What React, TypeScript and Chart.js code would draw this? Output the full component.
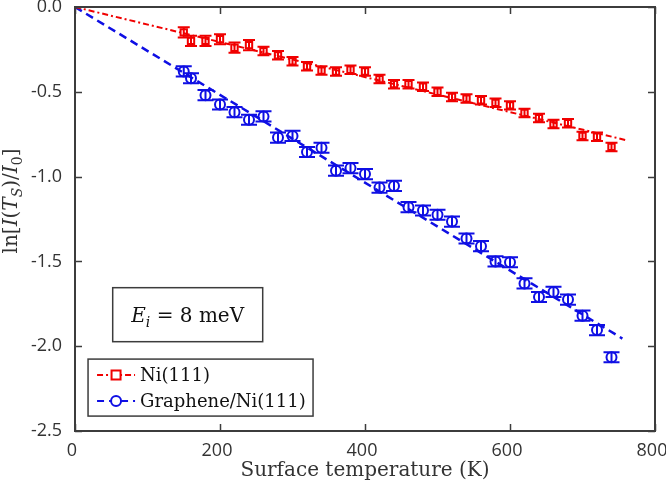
import React, { useEffect, useRef } from 'react';
import { Chart, registerables } from 'chart.js';
Chart.register(...registerables);

const temps = [150, 160, 180, 200, 220, 240, 260, 280, 300, 320, 340, 360, 380, 400, 420, 440, 460, 480, 500, 520, 540, 560, 580, 600, 620, 640, 660, 680, 700, 720, 740];
const niValues = [-0.15, -0.20, -0.20, -0.19, -0.24, -0.225, -0.26, -0.285, -0.32, -0.35, -0.375, -0.38, -0.37, -0.38, -0.425, -0.455, -0.455, -0.47, -0.50, -0.53, -0.54, -0.55, -0.565, -0.58, -0.625, -0.655, -0.69, -0.685, -0.76, -0.765, -0.825];
const niErrors = [0.03, 0.03, 0.03, 0.03, 0.03, 0.03, 0.025, 0.025, 0.025, 0.025, 0.025, 0.025, 0.025, 0.025, 0.025, 0.025, 0.025, 0.025, 0.025, 0.025, 0.025, 0.025, 0.025, 0.025, 0.025, 0.025, 0.025, 0.025, 0.025, 0.025, 0.025];
const grValues = [-0.38, -0.42, -0.52, -0.575, -0.62, -0.665, -0.645, -0.77, -0.76, -0.855, -0.83, -0.965, -0.95, -0.985, -1.065, -1.055, -1.18, -1.20, -1.225, -1.265, -1.365, -1.41, -1.50, -1.505, -1.63, -1.71, -1.68, -1.725, -1.82, -1.905, -2.065];
const grErrors = [0.03, 0.03, 0.03, 0.03, 0.03, 0.03, 0.03, 0.03, 0.03, 0.03, 0.03, 0.03, 0.03, 0.03, 0.03, 0.03, 0.03, 0.03, 0.03, 0.03, 0.03, 0.03, 0.03, 0.03, 0.03, 0.03, 0.03, 0.03, 0.03, 0.03, 0.03];
const niFitX = [0, 760];
const niFitY = [0, -0.785];
const grFitX = [0, 755];
const grFitY = [0, -1.955];
const xTickValues = [0, 200, 400, 600, 800];
const yTickValues = [0, -0.5, -1.0, -1.5, -2.0, -2.5];
const legendLabels = ['Ni(111)', 'Graphene/Ni(111)'];
const xTitle = 'Surface temperature (K)';

const RED = 'rgb(240,0,0)';
const BLUE = 'rgb(15,15,228)';
const FRAME = '#3c3c3c';
const SERIF = '"DejaVu Serif", serif';

type Seg = { t: string; italic?: boolean; sub?: boolean };

function drawRich(ctx: CanvasRenderingContext2D, segs: Seg[], x: number, y: number, size: number, measureOnly = false): number {
  let cx = x;
  for (const s of segs) {
    const sz = s.sub ? size * 0.7 : size;
    ctx.font = `${s.italic ? 'italic ' : ''}${sz}px ${SERIF}`;
    const w = ctx.measureText(s.t).width;
    if (!measureOnly) ctx.fillText(s.t, cx, s.sub ? y + size * 0.25 : y);
    cx += w;
  }
  return cx - x;
}

const extrasPlugin = {
  id: 'extras',
  afterDatasetsDraw(chart: any) {
    const ctx: CanvasRenderingContext2D = chart.ctx;
    const xs = chart.scales.x;
    const ys = chart.scales.y;
    const area = chart.chartArea;
    ctx.save();

    // error bars
    const drawErr = (vals: number[], errs: number[], color: string, half: number) => {
      ctx.strokeStyle = color;
      ctx.lineWidth = 2;
      vals.forEach((v, i) => {
        const px = xs.getPixelForValue(temps[i]);
        const top = ys.getPixelForValue(v + errs[i]);
        const bot = ys.getPixelForValue(v - errs[i]);
        ctx.beginPath();
        ctx.moveTo(px, top); ctx.lineTo(px, bot);
        ctx.moveTo(px - half, top); ctx.lineTo(px + half, top);
        ctx.moveTo(px - half, bot); ctx.lineTo(px + half, bot);
        ctx.stroke();
      });
    };
    drawErr(niValues, niErrors, RED, 6);
    drawErr(grValues, grErrors, BLUE, 8);

    // frame
    ctx.strokeStyle = FRAME;
    ctx.lineWidth = 2;
    ctx.strokeRect(area.left, area.top, area.right - area.left, area.bottom - area.top);

    // inward ticks
    ctx.lineWidth = 1.5;
    const tl = 7;
    ctx.beginPath();
    xTickValues.forEach((v) => {
      const px = Math.round(xs.getPixelForValue(v)) + 0.5;
      ctx.moveTo(px, area.bottom); ctx.lineTo(px, area.bottom - tl);
      ctx.moveTo(px, area.top); ctx.lineTo(px, area.top + tl);
    });
    yTickValues.forEach((v) => {
      const py = Math.round(ys.getPixelForValue(v)) + 0.5;
      ctx.moveTo(area.left, py); ctx.lineTo(area.left + tl, py);
      ctx.moveTo(area.right, py); ctx.lineTo(area.right - tl, py);
    });
    ctx.stroke();

    // annotation box
    const ax = xs.getPixelForValue(52), ay = ys.getPixelForValue(-1.655);
    const aw = 150, ah = 54;
    ctx.fillStyle = '#fff';
    ctx.fillRect(ax, ay, aw, ah);
    ctx.strokeStyle = FRAME;
    ctx.lineWidth = 1.5;
    ctx.strokeRect(ax, ay, aw, ah);
    ctx.fillStyle = '#111';
    ctx.textBaseline = 'alphabetic';
    ctx.textAlign = 'left';
    const annSegs: Seg[] = [
      { t: 'E', italic: true },
      { t: 'i', italic: true, sub: true },
      { t: ' = 8 meV' },
    ];
    const aWidth = drawRich(ctx, annSegs, 0, 0, 20, true);
    drawRich(ctx, annSegs, ax + (aw - aWidth) / 2, ay + 34, 20);

    // legend
    const lx = xs.getPixelForValue(18), ly = ys.getPixelForValue(-2.076);
    const lw = 225, lh = 57;
    ctx.fillStyle = '#fff';
    ctx.fillRect(lx, ly, lw, lh);
    ctx.strokeStyle = FRAME;
    ctx.lineWidth = 1.5;
    ctx.strokeRect(lx, ly, lw, lh);
    const rows = [
      { y: ly + 16, color: RED, dash: [6, 3, 2, 3], marker: 'rect', label: legendLabels[0] },
      { y: ly + 42, color: BLUE, dash: [7, 5], marker: 'circle', label: legendLabels[1] },
    ];
    rows.forEach((r) => {
      ctx.strokeStyle = r.color;
      ctx.lineWidth = 2;
      ctx.setLineDash(r.dash);
      ctx.beginPath();
      ctx.moveTo(lx + 9, r.y); ctx.lineTo(lx + 47, r.y);
      ctx.stroke();
      ctx.setLineDash([]);
      const mx = lx + 28;
      ctx.fillStyle = '#fff';
      ctx.beginPath();
      if (r.marker === 'rect') {
        ctx.rect(mx - 4.5, r.y - 4.5, 9, 9);
      } else {
        ctx.arc(mx, r.y, 5, 0, Math.PI * 2);
      }
      ctx.fill();
      ctx.stroke();
      ctx.fillStyle = '#111';
      ctx.font = `18px ${SERIF}`;
      ctx.textBaseline = 'middle';
      ctx.fillText(r.label, lx + 52, r.y + 1);
    });

    // y title
    ctx.save();
    ctx.translate(17, (area.top + area.bottom) / 2 - 18);
    ctx.rotate(-Math.PI / 2);
    ctx.fillStyle = '#333';
    ctx.textBaseline = 'alphabetic';
    const ySegs: Seg[] = [
      { t: 'ln[' },
      { t: 'I', italic: true },
      { t: '(' },
      { t: 'T', italic: true },
      { t: 'S', italic: true, sub: true },
      { t: ')/' },
      { t: 'I', italic: true },
      { t: '0', sub: true },
      { t: ']' },
    ];
    const yw = drawRich(ctx, ySegs, 0, 0, 20, true);
    drawRich(ctx, ySegs, -yw / 2, 0, 20);
    ctx.restore();

    ctx.restore();
  },
};

export default function App() {
  const ref = useRef<HTMLCanvasElement>(null);
  useEffect(() => {
    if (!ref.current) return;
    const chart = new Chart(ref.current, {
      type: 'scatter',
      data: {
        datasets: [
          {
            label: 'Ni fit',
            data: niFitX.map((x, i) => ({ x, y: niFitY[i] })),
            showLine: true,
            borderColor: RED,
            borderWidth: 2,
            borderDash: [6, 3, 2, 3],
            pointRadius: 0,
            order: 3,
          },
          {
            label: 'Graphene fit',
            data: grFitX.map((x, i) => ({ x, y: grFitY[i] })),
            showLine: true,
            borderColor: BLUE,
            borderWidth: 2.5,
            borderDash: [8, 5],
            pointRadius: 0,
            order: 3,
          },
          {
            label: legendLabels[0],
            data: temps.map((x, i) => ({ x, y: niValues[i] })),
            pointStyle: 'rect',
            pointRadius: 4.5,
            borderColor: RED,
            backgroundColor: 'rgba(255,255,255,0)',
            borderWidth: 2,
            order: 1,
          },
          {
            label: legendLabels[1],
            data: temps.map((x, i) => ({ x, y: grValues[i] })),
            pointStyle: 'circle',
            pointRadius: 5,
            borderColor: BLUE,
            backgroundColor: 'rgba(255,255,255,0)',
            borderWidth: 2,
            order: 2,
          },
        ],
      },
      options: {
        responsive: false,
        animation: false,
        layout: { padding: { top: 6, right: 11, left: 0, bottom: 0 } },
        plugins: { legend: { display: false }, tooltip: { enabled: false } },
        scales: {
          x: {
            type: 'linear',
            min: 0,
            max: 800,
            grid: { display: false, drawTicks: false },
            border: { display: false },
            afterBuildTicks: (s: any) => { s.ticks = xTickValues.map((v) => ({ value: v })); },
            afterFit: (s: any) => { s.height = 56; s.paddingLeft = 0; s.paddingRight = 0; s.paddingTop = 0; s.paddingBottom = 0; },
            ticks: {
              padding: 9,
              labelOffset: -3,
              color: '#333',
              font: { family: '"Open Sans", sans-serif', size: 18 },
              callback: (v: any) => String(v),
            },
            title: {
              display: true,
              text: xTitle,
              color: '#333',
              font: { family: SERIF, size: 20 },
              padding: { top: 0, bottom: 4 },
            },
          },
          y: {
            type: 'linear',
            min: -2.5,
            max: 0,
            grid: { display: false, drawTicks: false },
            border: { display: false },
            afterBuildTicks: (s: any) => { s.ticks = yTickValues.map((v) => ({ value: v })); },
            afterFit: (s: any) => { s.width = 75; s.paddingLeft = 0; s.paddingRight = 0; s.paddingTop = 0; s.paddingBottom = 0; },
            ticks: {
              padding: 13,
              color: '#333',
              font: { family: '"Open Sans", sans-serif', size: 18 },
              callback: (v: any) => Number(v).toFixed(1),
            },
          },
        },
      },
      plugins: [extrasPlugin],
    } as any);
    return () => chart.destroy();
  }, []);
  return (
    <div style={{ position: 'fixed', left: 0, top: 0, width: 666, height: 487, background: '#fff' }}>
      <canvas ref={ref} width={666} height={487} />
    </div>
  );
}
